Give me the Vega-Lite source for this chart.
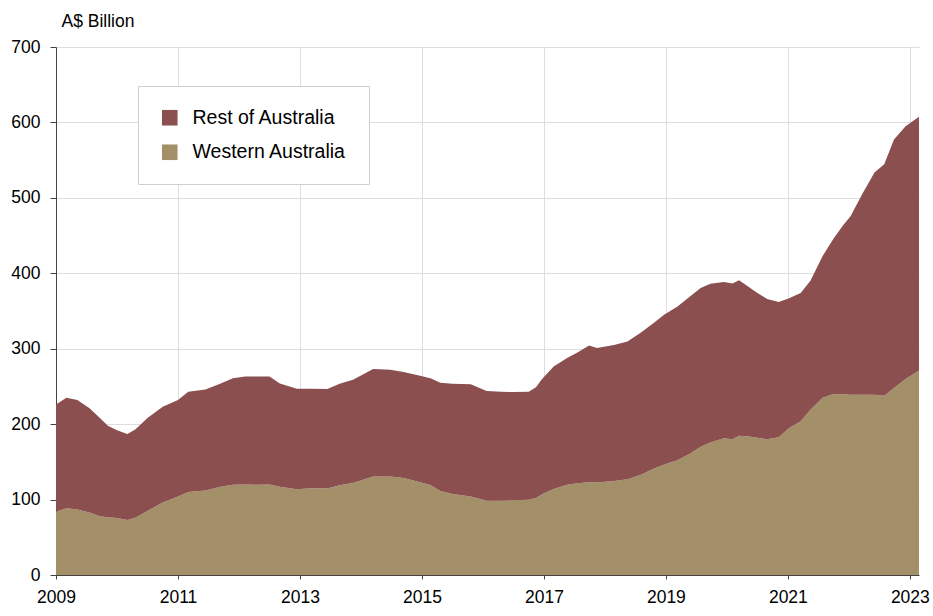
{
  "$schema": "https://vega.github.io/schema/vega-lite/v6.json",
  "autosize": {"type": "none"},
  "width": 863,
  "height": 528,
  "padding": {"left": 56, "top": 47, "right": 14, "bottom": 41},
  "background": "white",
  "config": {
    "font": "Liberation Sans",
    "view": {"stroke": null}
  },
  "data": {
    "values": [
      {"year": 2009.0, "region": "Western Australia", "value": 84},
      {"year": 2009.17, "region": "Western Australia", "value": 88.5},
      {"year": 2009.35, "region": "Western Australia", "value": 87},
      {"year": 2009.55, "region": "Western Australia", "value": 83},
      {"year": 2009.72, "region": "Western Australia", "value": 78},
      {"year": 2009.85, "region": "Western Australia", "value": 76.5},
      {"year": 2010.0, "region": "Western Australia", "value": 75.5},
      {"year": 2010.17, "region": "Western Australia", "value": 73},
      {"year": 2010.3, "region": "Western Australia", "value": 76},
      {"year": 2010.5, "region": "Western Australia", "value": 85},
      {"year": 2010.75, "region": "Western Australia", "value": 96},
      {"year": 2011.0, "region": "Western Australia", "value": 104},
      {"year": 2011.17, "region": "Western Australia", "value": 110},
      {"year": 2011.45, "region": "Western Australia", "value": 112},
      {"year": 2011.7, "region": "Western Australia", "value": 117},
      {"year": 2011.9, "region": "Western Australia", "value": 119.5},
      {"year": 2012.1, "region": "Western Australia", "value": 120},
      {"year": 2012.3, "region": "Western Australia", "value": 119.5},
      {"year": 2012.5, "region": "Western Australia", "value": 120},
      {"year": 2012.67, "region": "Western Australia", "value": 117},
      {"year": 2012.95, "region": "Western Australia", "value": 113.7},
      {"year": 2013.2, "region": "Western Australia", "value": 115},
      {"year": 2013.45, "region": "Western Australia", "value": 114.6},
      {"year": 2013.65, "region": "Western Australia", "value": 119},
      {"year": 2013.87, "region": "Western Australia", "value": 122},
      {"year": 2014.2, "region": "Western Australia", "value": 130.5},
      {"year": 2014.48, "region": "Western Australia", "value": 130.5},
      {"year": 2014.7, "region": "Western Australia", "value": 128.5},
      {"year": 2014.97, "region": "Western Australia", "value": 123},
      {"year": 2015.15, "region": "Western Australia", "value": 119},
      {"year": 2015.3, "region": "Western Australia", "value": 111.5},
      {"year": 2015.5, "region": "Western Australia", "value": 107.5},
      {"year": 2015.8, "region": "Western Australia", "value": 104},
      {"year": 2016.06, "region": "Western Australia", "value": 98.5},
      {"year": 2016.3, "region": "Western Australia", "value": 98.5},
      {"year": 2016.5, "region": "Western Australia", "value": 99},
      {"year": 2016.75, "region": "Western Australia", "value": 99.6},
      {"year": 2016.87, "region": "Western Australia", "value": 102},
      {"year": 2016.97, "region": "Western Australia", "value": 107},
      {"year": 2017.16, "region": "Western Australia", "value": 114},
      {"year": 2017.38, "region": "Western Australia", "value": 119.5},
      {"year": 2017.55, "region": "Western Australia", "value": 121.5},
      {"year": 2017.74, "region": "Western Australia", "value": 123},
      {"year": 2017.87, "region": "Western Australia", "value": 122.6},
      {"year": 2018.15, "region": "Western Australia", "value": 124.5},
      {"year": 2018.37, "region": "Western Australia", "value": 127},
      {"year": 2018.58, "region": "Western Australia", "value": 132.7},
      {"year": 2018.8, "region": "Western Australia", "value": 141},
      {"year": 2018.97, "region": "Western Australia", "value": 146.5},
      {"year": 2019.19, "region": "Western Australia", "value": 152},
      {"year": 2019.4, "region": "Western Australia", "value": 161},
      {"year": 2019.57, "region": "Western Australia", "value": 170},
      {"year": 2019.73, "region": "Western Australia", "value": 175.5},
      {"year": 2019.95, "region": "Western Australia", "value": 181.4},
      {"year": 2020.09, "region": "Western Australia", "value": 180},
      {"year": 2020.2, "region": "Western Australia", "value": 184.5},
      {"year": 2020.33, "region": "Western Australia", "value": 184},
      {"year": 2020.5, "region": "Western Australia", "value": 182},
      {"year": 2020.66, "region": "Western Australia", "value": 180},
      {"year": 2020.85, "region": "Western Australia", "value": 182.5},
      {"year": 2021.02, "region": "Western Australia", "value": 195},
      {"year": 2021.21, "region": "Western Australia", "value": 204},
      {"year": 2021.37, "region": "Western Australia", "value": 219},
      {"year": 2021.57, "region": "Western Australia", "value": 235},
      {"year": 2021.75, "region": "Western Australia", "value": 240},
      {"year": 2021.9, "region": "Western Australia", "value": 239.5},
      {"year": 2022.03, "region": "Western Australia", "value": 239},
      {"year": 2022.22, "region": "Western Australia", "value": 239},
      {"year": 2022.42, "region": "Western Australia", "value": 239},
      {"year": 2022.58, "region": "Western Australia", "value": 237.6},
      {"year": 2022.74, "region": "Western Australia", "value": 248},
      {"year": 2022.93, "region": "Western Australia", "value": 260},
      {"year": 2023.15, "region": "Western Australia", "value": 271},
      {"year": 2009.0, "region": "Rest of Australia", "value": 142},
      {"year": 2009.17, "region": "Rest of Australia", "value": 146.5},
      {"year": 2009.35, "region": "Rest of Australia", "value": 145},
      {"year": 2009.55, "region": "Rest of Australia", "value": 138},
      {"year": 2009.72, "region": "Rest of Australia", "value": 130},
      {"year": 2009.85, "region": "Rest of Australia", "value": 121.5},
      {"year": 2010.0, "region": "Rest of Australia", "value": 116.5},
      {"year": 2010.17, "region": "Rest of Australia", "value": 114},
      {"year": 2010.3, "region": "Rest of Australia", "value": 117},
      {"year": 2010.5, "region": "Rest of Australia", "value": 123},
      {"year": 2010.75, "region": "Rest of Australia", "value": 127},
      {"year": 2011.0, "region": "Rest of Australia", "value": 128},
      {"year": 2011.17, "region": "Rest of Australia", "value": 133},
      {"year": 2011.45, "region": "Rest of Australia", "value": 134},
      {"year": 2011.7, "region": "Rest of Australia", "value": 137},
      {"year": 2011.9, "region": "Rest of Australia", "value": 141.5},
      {"year": 2012.1, "region": "Rest of Australia", "value": 143},
      {"year": 2012.3, "region": "Rest of Australia", "value": 143.5},
      {"year": 2012.5, "region": "Rest of Australia", "value": 143},
      {"year": 2012.67, "region": "Rest of Australia", "value": 137},
      {"year": 2012.95, "region": "Rest of Australia", "value": 133.3},
      {"year": 2013.2, "region": "Rest of Australia", "value": 132},
      {"year": 2013.45, "region": "Rest of Australia", "value": 131.9},
      {"year": 2013.65, "region": "Rest of Australia", "value": 134.5},
      {"year": 2013.87, "region": "Rest of Australia", "value": 137},
      {"year": 2014.2, "region": "Rest of Australia", "value": 142.5},
      {"year": 2014.48, "region": "Rest of Australia", "value": 141.5},
      {"year": 2014.7, "region": "Rest of Australia", "value": 140.5},
      {"year": 2014.97, "region": "Rest of Australia", "value": 141},
      {"year": 2015.15, "region": "Rest of Australia", "value": 141.5},
      {"year": 2015.3, "region": "Rest of Australia", "value": 143.5},
      {"year": 2015.5, "region": "Rest of Australia", "value": 146},
      {"year": 2015.8, "region": "Rest of Australia", "value": 149},
      {"year": 2016.06, "region": "Rest of Australia", "value": 145.5},
      {"year": 2016.3, "region": "Rest of Australia", "value": 144.5},
      {"year": 2016.5, "region": "Rest of Australia", "value": 143.5},
      {"year": 2016.75, "region": "Rest of Australia", "value": 143.4},
      {"year": 2016.87, "region": "Rest of Australia", "value": 147},
      {"year": 2016.97, "region": "Rest of Australia", "value": 153},
      {"year": 2017.16, "region": "Rest of Australia", "value": 162.5},
      {"year": 2017.38, "region": "Rest of Australia", "value": 168.1},
      {"year": 2017.55, "region": "Rest of Australia", "value": 173.5},
      {"year": 2017.74, "region": "Rest of Australia", "value": 181.4},
      {"year": 2017.87, "region": "Rest of Australia", "value": 178.4},
      {"year": 2018.15, "region": "Rest of Australia", "value": 180.5},
      {"year": 2018.37, "region": "Rest of Australia", "value": 182.7},
      {"year": 2018.58, "region": "Rest of Australia", "value": 188.1},
      {"year": 2018.8, "region": "Rest of Australia", "value": 193},
      {"year": 2018.97, "region": "Rest of Australia", "value": 198.5},
      {"year": 2019.19, "region": "Rest of Australia", "value": 204},
      {"year": 2019.4, "region": "Rest of Australia", "value": 208.5},
      {"year": 2019.57, "region": "Rest of Australia", "value": 210.5},
      {"year": 2019.73, "region": "Rest of Australia", "value": 210.5},
      {"year": 2019.95, "region": "Rest of Australia", "value": 207.1},
      {"year": 2020.09, "region": "Rest of Australia", "value": 206.3},
      {"year": 2020.2, "region": "Rest of Australia", "value": 206.2},
      {"year": 2020.33, "region": "Rest of Australia", "value": 199.6},
      {"year": 2020.5, "region": "Rest of Australia", "value": 192},
      {"year": 2020.66, "region": "Rest of Australia", "value": 186},
      {"year": 2020.85, "region": "Rest of Australia", "value": 179.5},
      {"year": 2021.02, "region": "Rest of Australia", "value": 172},
      {"year": 2021.21, "region": "Rest of Australia", "value": 170},
      {"year": 2021.37, "region": "Rest of Australia", "value": 171},
      {"year": 2021.57, "region": "Rest of Australia", "value": 188},
      {"year": 2021.75, "region": "Rest of Australia", "value": 206},
      {"year": 2021.9, "region": "Rest of Australia", "value": 223.5},
      {"year": 2022.03, "region": "Rest of Australia", "value": 237},
      {"year": 2022.22, "region": "Rest of Australia", "value": 266},
      {"year": 2022.42, "region": "Rest of Australia", "value": 294.5},
      {"year": 2022.58, "region": "Rest of Australia", "value": 306.9},
      {"year": 2022.74, "region": "Rest of Australia", "value": 329.5},
      {"year": 2022.93, "region": "Rest of Australia", "value": 335},
      {"year": 2023.15, "region": "Rest of Australia", "value": 336.5}
    ]
  },
  "mark": {"type": "area", "interpolate": "linear"},
  "encoding": {
    "x": {
      "field": "year",
      "type": "quantitative",
      "scale": {"domain": [2009, 2023.15], "nice": false, "zero": false},
      "axis": {
        "values": [2009, 2011, 2013, 2015, 2017, 2019, 2021, 2023],
        "format": "d",
        "title": null,
        "grid": true,
        "gridColor": "#dedede",
        "domainColor": "#444444",
        "tickColor": "#444444",
        "tickSize": 4,
        "labelFontSize": 17.5,
        "labelColor": "#000000",
        "labelPadding": 9,
        "labelFlush": false
      }
    },
    "y": {
      "field": "value",
      "type": "quantitative",
      "stack": "zero",
      "scale": {"domain": [0, 700], "nice": false},
      "axis": {
        "values": [0, 100, 200, 300, 400, 500, 600, 700],
        "title": "A$ Billion",
        "titleAngle": 0,
        "titleAlign": "left",
        "titleBaseline": "middle",
        "titleX": 5,
        "titleY": -26,
        "titleFontSize": 17.5,
        "titleFontWeight": "normal",
        "titleColor": "#000000",
        "grid": true,
        "gridColor": "#dedede",
        "domainColor": "#444444",
        "tickColor": "#444444",
        "tickSize": 6,
        "labelFontSize": 17.5,
        "labelColor": "#000000",
        "labelPadding": 10
      }
    },
    "color": {
      "field": "region",
      "type": "nominal",
      "scale": {
        "domain": ["Rest of Australia", "Western Australia"],
        "range": ["#8a4f4e", "#a39069"]
      },
      "legend": {
        "title": null,
        "orient": "none",
        "legendX": 82,
        "legendY": 39,
        "padding": 22,
        "strokeColor": "#cfcfcf",
        "fillColor": "#ffffff",
        "symbolType": "square",
        "symbolSize": 243,
        "symbolStrokeWidth": 0,
        "symbolOpacity": 1,
        "labelFontSize": 19.5,
        "labelColor": "#000000",
        "labelOffset": 13,
        "rowPadding": 13.5
      }
    },
    "order": {"field": "region", "sort": "descending"}
  }
}
